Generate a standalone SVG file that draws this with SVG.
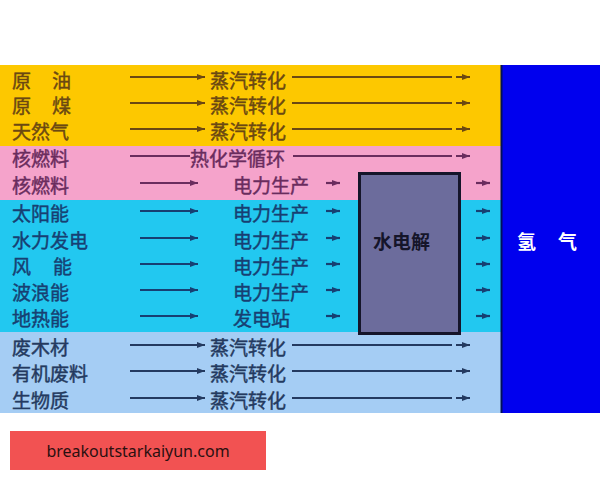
<svg xmlns="http://www.w3.org/2000/svg" width="600" height="480" viewBox="0 0 600 480">
<style>
.t{font-family:"Noto Sans CJK SC","Noto Sans",sans-serif;font-size:19px;dominant-baseline:central;stroke-width:0.45}
.y{fill:#6b4812;stroke:#6b4812}.p{fill:#6a2c5e;stroke:#6a2c5e}.c{fill:#173f72;stroke:#173f72}.b{fill:#243a60;stroke:#243a60}
.ly{stroke:#6b4812;stroke-width:2.2;fill:none}
.lp{stroke:#6a2c5e;stroke-width:2.2;fill:none}
.lc{stroke:#173f72;stroke-width:2.2;fill:none}
.lb{stroke:#243a60;stroke-width:2.2;fill:none}
</style>
<defs>
<marker id="ay" markerUnits="userSpaceOnUse" markerWidth="9" markerHeight="7" refX="8" refY="3.5" orient="auto"><path d="M0,0.5 L8,3.5 L0,6.5 z" fill="#6b4812"/></marker>
<marker id="ap" markerUnits="userSpaceOnUse" markerWidth="9" markerHeight="7" refX="8" refY="3.5" orient="auto"><path d="M0,0.5 L8,3.5 L0,6.5 z" fill="#6a2c5e"/></marker>
<marker id="ac" markerUnits="userSpaceOnUse" markerWidth="9" markerHeight="7" refX="8" refY="3.5" orient="auto"><path d="M0,0.5 L8,3.5 L0,6.5 z" fill="#173f72"/></marker>
<marker id="ab" markerUnits="userSpaceOnUse" markerWidth="9" markerHeight="7" refX="8" refY="3.5" orient="auto"><path d="M0,0.5 L8,3.5 L0,6.5 z" fill="#243a60"/></marker>
</defs>
<rect width="600" height="480" fill="#ffffff"/>
<g id="bands">
<rect x="0" y="65" width="502" height="81" fill="#fdc800"/>
<rect x="0" y="146" width="502" height="54" fill="#f5a3cb"/>
<rect x="0" y="200" width="502" height="132" fill="#22c8f0"/>
<rect x="0" y="332" width="502" height="81" fill="#a5cdf4"/>
</g>
<g id="hydrogen">
<rect x="501" y="65" width="99" height="348" fill="#0000ee"/>
<line x1="501.5" y1="65" x2="501.5" y2="413" stroke="#00105a" stroke-width="2"/>
<text class="t" x="517" y="240" fill="#ffffff" font-weight="bold">氢</text>
<text class="t" x="558" y="240" fill="#ffffff" font-weight="bold">气</text>
</g>
<g id="electrolysis">
<rect x="359.5" y="173.5" width="100" height="160" fill="#6c6c9c" stroke="#15152a" stroke-width="3"/>
<text class="t" x="373" y="240" fill="#15152a" font-weight="bold">水电解</text>
</g>
<g id="sources">
<text class="t y" x="12" y="79">原<tspan x="52">油</tspan></text>
<text class="t y" x="12" y="104">原<tspan x="52">煤</tspan></text>
<text class="t y" x="12" y="130">天然气</text>
<text class="t p" x="12" y="157">核燃料</text>
<text class="t p" x="12" y="184">核燃料</text>
<text class="t c" x="12" y="212">太阳能</text>
<text class="t c" x="12" y="239">水力发电</text>
<text class="t c" x="12" y="265">风<tspan x="53">能</tspan></text>
<text class="t c" x="12" y="291">波浪能</text>
<text class="t c" x="12" y="317">地热能</text>
<text class="t b" x="12" y="346">废木材</text>
<text class="t b" x="12" y="372">有机废料</text>
<text class="t b" x="12" y="399">生物质</text>
</g>
<g id="processes">
<text class="t y" x="210" y="79">蒸汽转化</text>
<text class="t y" x="210" y="104">蒸汽转化</text>
<text class="t y" x="210" y="130">蒸汽转化</text>
<text class="t p" x="190" y="157">热化学循环</text>
<text class="t p" x="233" y="184">电力生产</text>
<text class="t c" x="233" y="212">电力生产</text>
<text class="t c" x="233" y="239">电力生产</text>
<text class="t c" x="233" y="265">电力生产</text>
<text class="t c" x="233" y="291">电力生产</text>
<text class="t c" x="233" y="317">发电站</text>
<text class="t b" x="210" y="346">蒸汽转化</text>
<text class="t b" x="210" y="372">蒸汽转化</text>
<text class="t b" x="210" y="399">蒸汽转化</text>
</g>
<g id="connectors">
<path class="ly" d="M130,77 H205" marker-end="url(#ay)"/>
<path class="ly" d="M130,103 H205" marker-end="url(#ay)"/>
<path class="ly" d="M130,129 H205" marker-end="url(#ay)"/>
<path class="ly" d="M292,77 H452 M456,77 H470" marker-end="url(#ay)"/>
<path class="ly" d="M292,103 H452 M456,103 H470" marker-end="url(#ay)"/>
<path class="ly" d="M292,129 H452 M456,129 H470" marker-end="url(#ay)"/>
<path class="lp" d="M130,156 H190"/>
<path class="lp" d="M293,156 H452 M456,156 H470" marker-end="url(#ap)"/>
<path class="lp" d="M140,183 H198" marker-end="url(#ap)"/>
<path class="lp" d="M326,183 H340" marker-end="url(#ap)"/>
<path class="lp" d="M476,183 H490" marker-end="url(#ap)"/>
<path class="lc" d="M140,211 H198" marker-end="url(#ac)"/>
<path class="lc" d="M140,238 H198" marker-end="url(#ac)"/>
<path class="lc" d="M140,264 H198" marker-end="url(#ac)"/>
<path class="lc" d="M140,290 H198" marker-end="url(#ac)"/>
<path class="lc" d="M140,316 H198" marker-end="url(#ac)"/>
<path class="lc" d="M326,211 H340" marker-end="url(#ac)"/>
<path class="lc" d="M326,238 H340" marker-end="url(#ac)"/>
<path class="lc" d="M326,264 H340" marker-end="url(#ac)"/>
<path class="lc" d="M326,290 H340" marker-end="url(#ac)"/>
<path class="lc" d="M326,316 H340" marker-end="url(#ac)"/>
<path class="lc" d="M476,211 H490" marker-end="url(#ac)"/>
<path class="lc" d="M476,238 H490" marker-end="url(#ac)"/>
<path class="lc" d="M476,264 H490" marker-end="url(#ac)"/>
<path class="lc" d="M476,290 H490" marker-end="url(#ac)"/>
<path class="lc" d="M476,316 H490" marker-end="url(#ac)"/>
<path class="lb" d="M130,345 H205" marker-end="url(#ab)"/>
<path class="lb" d="M130,371 H205" marker-end="url(#ab)"/>
<path class="lb" d="M130,398 H205" marker-end="url(#ab)"/>
<path class="lb" d="M292,345 H452 M456,345 H470" marker-end="url(#ab)"/>
<path class="lb" d="M292,371 H452 M456,371 H470" marker-end="url(#ab)"/>
<path class="lb" d="M292,398 H452 M456,398 H470" marker-end="url(#ab)"/>
</g>
<g id="watermark">
<rect x="10" y="431" width="256" height="39" fill="#f25252"/>
<text x="138" y="451" text-anchor="middle" dominant-baseline="central" font-family="'Noto Sans','Liberation Sans',sans-serif" font-size="16" fill="#2a1010">breakoutstarkaiyun.com</text>
</g>
</svg>
